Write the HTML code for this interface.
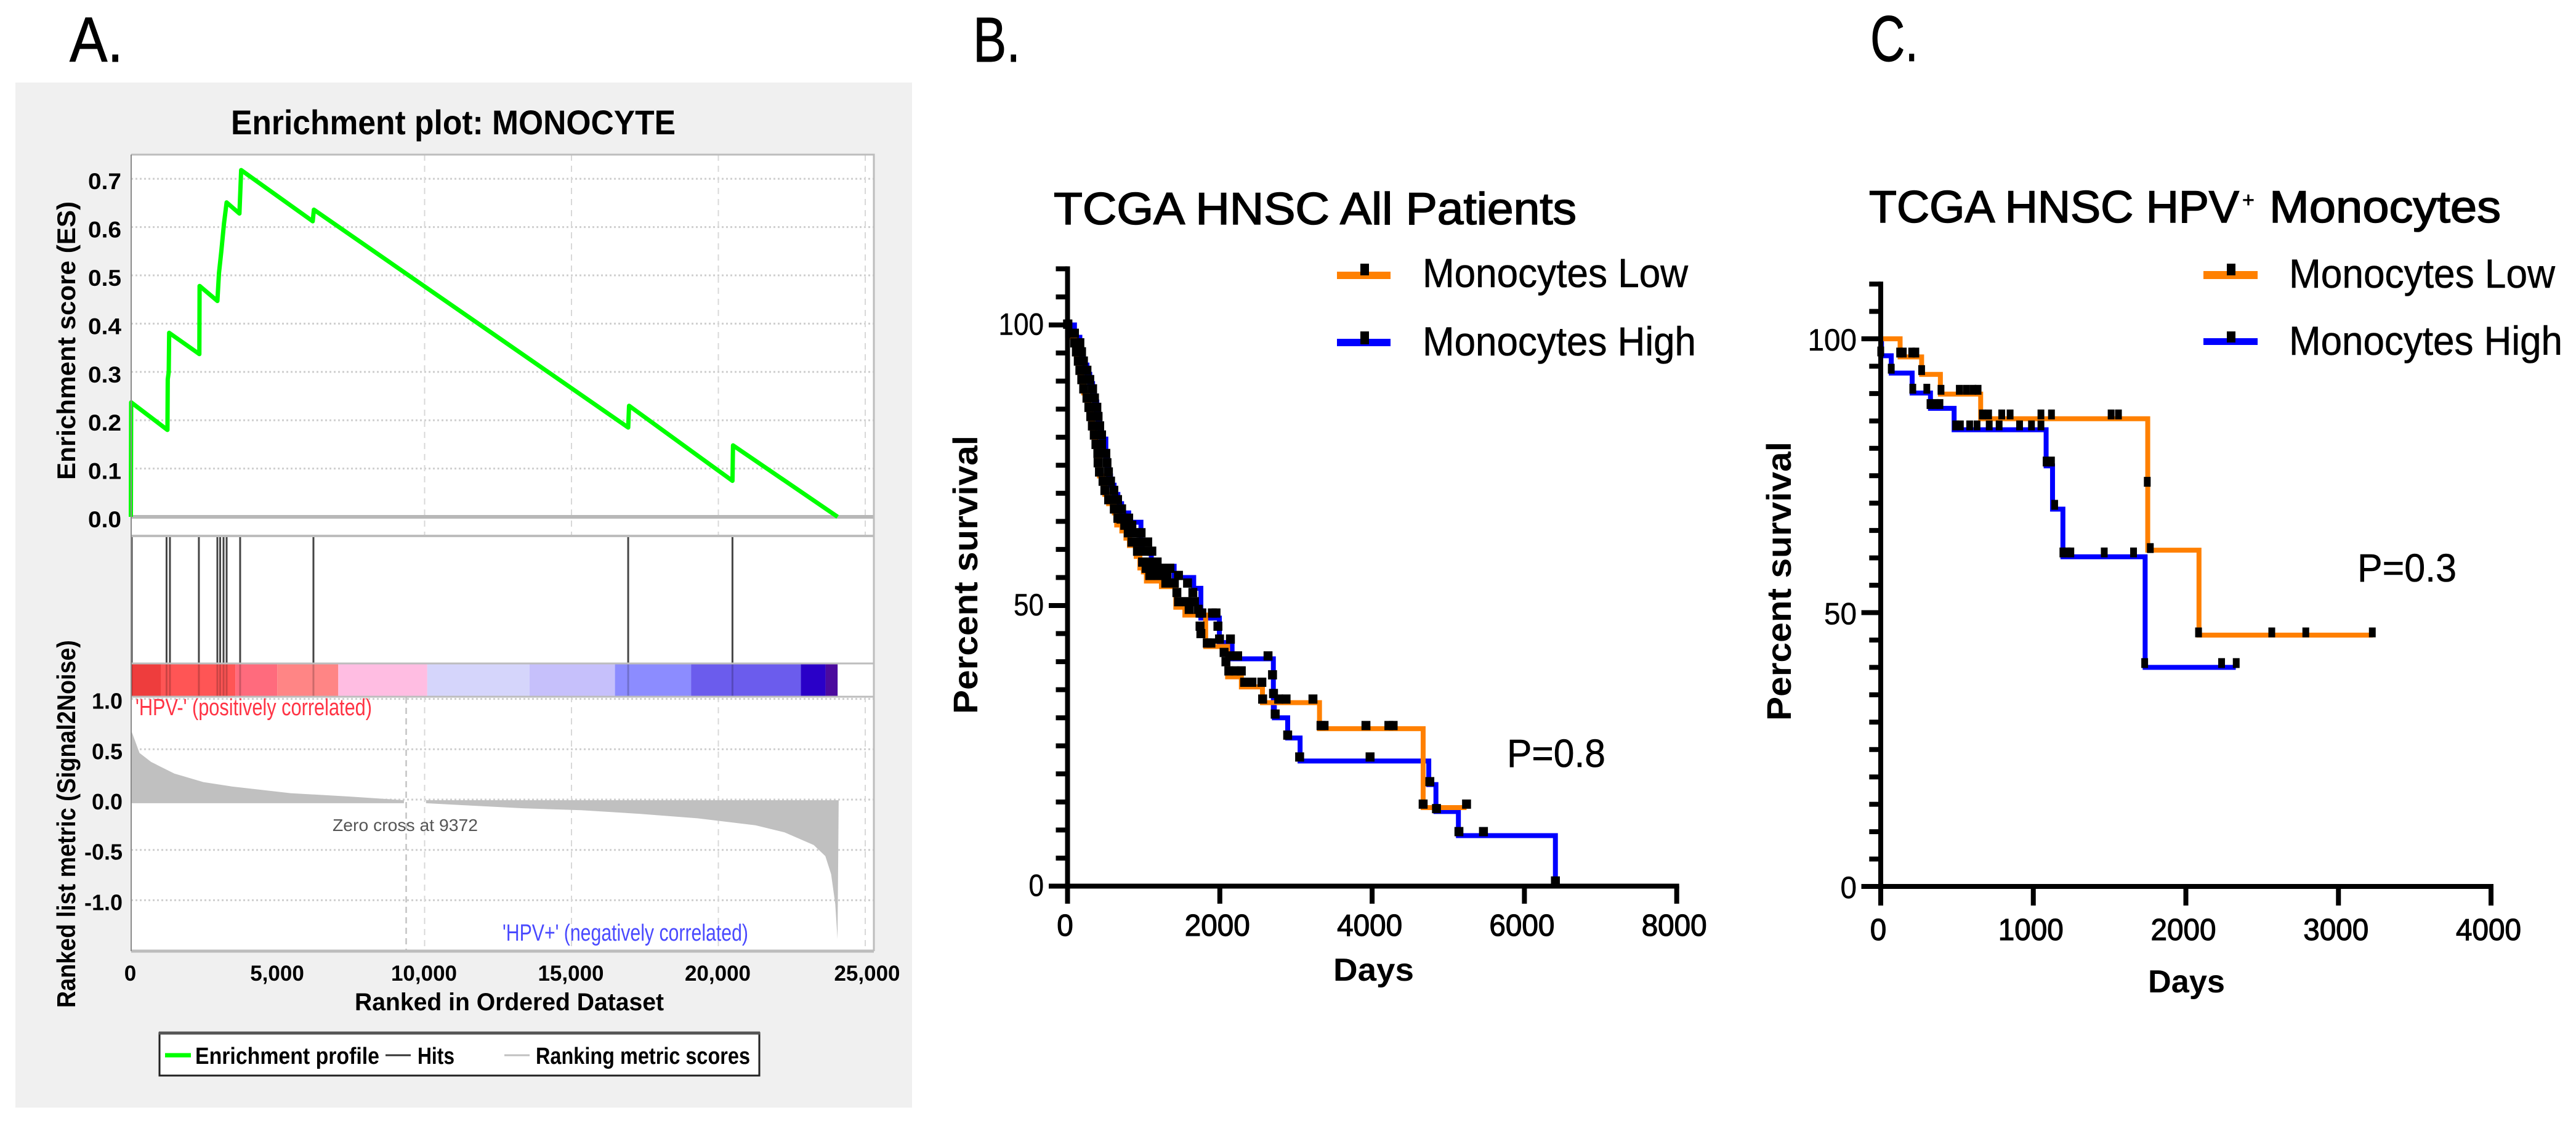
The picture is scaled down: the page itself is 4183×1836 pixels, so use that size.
<!DOCTYPE html>
<html lang="en">
<head>
<meta charset="utf-8">
<title>Monocyte enrichment and survival</title>
<style>
html,body{margin:0;padding:0;background:#fff;}
svg{display:block;}
text{font-family:"Liberation Sans",sans-serif;fill:#000;}
</style>
</head>
<body>
<svg id="fig" xmlns="http://www.w3.org/2000/svg" width="4183" height="1836" viewBox="0 0 4183 1836">
  <rect x="0" y="0" width="4183" height="1836" fill="#fff"/>

  <text x="113" y="100" font-size="103" stroke="#000" stroke-width="1" textLength="87" lengthAdjust="spacingAndGlyphs">A.</text>
  <text x="1580" y="100" font-size="103" stroke="#000" stroke-width="1" textLength="77" lengthAdjust="spacingAndGlyphs">B.</text>
  <text x="3037" y="99" font-size="105" stroke="#000" stroke-width="1" textLength="78" lengthAdjust="spacingAndGlyphs">C.</text>

  <!-- Panel A -->
  <g id="panelA">
    <rect x="25" y="134" width="1456" height="1664" fill="#f0f0f0"/>
    <text x="375" y="218" font-size="56" font-weight="bold" textLength="722" lengthAdjust="spacingAndGlyphs">Enrichment plot: MONOCYTE</text>
    <rect x="213" y="251" width="1206" height="619" fill="#fff"/>
    <rect x="213" y="870" width="1206" height="207" fill="#fff"/>
    <rect x="213" y="1077" width="1206" height="53" fill="#fff"/>
    <rect x="213" y="1130" width="1206" height="414" fill="#fff"/>
    <g id="aGrid"></g>
    <g id="aMarks"></g>
    <g fill="none">
      <path d="M213 251H1419V1544" stroke="#bdbdbd" stroke-width="3"/>
      <path d="M213 870H1419" stroke="#bdbdbd" stroke-width="4"/>
      <path d="M213 1077H1419" stroke="#bdbdbd" stroke-width="3"/>
      <path d="M213 1131H1419" stroke="#bdbdbd" stroke-width="3"/>
      <path d="M213 1544H1419" stroke="#bdbdbd" stroke-width="5"/>
      <path d="M213 251V1544" stroke="#8a8a8a" stroke-width="2"/>
    </g>
    <text transform="translate(122 779) rotate(-90)" x="0" y="0" font-size="42" font-weight="bold" textLength="452" lengthAdjust="spacingAndGlyphs">Enrichment  score (ES)</text>
    <text transform="translate(122 1636) rotate(-90)" x="0" y="0" font-size="42" font-weight="bold" textLength="597" lengthAdjust="spacingAndGlyphs">Ranked list  metric (Signal2Noise)</text>
    <text x="576" y="1640" font-size="40" font-weight="bold" textLength="502" lengthAdjust="spacingAndGlyphs">Ranked in Ordered Dataset</text>
    <text x="220" y="1161" font-size="38" textLength="384" lengthAdjust="spacingAndGlyphs" style="fill:#ff3344">'HPV-' (positively correlated)</text>
    <text x="816" y="1527" font-size="38" textLength="399" lengthAdjust="spacingAndGlyphs" style="fill:#4a4aff">'HPV+' (negatively correlated)</text>
    <text x="540" y="1349" font-size="28" textLength="236" lengthAdjust="spacingAndGlyphs" style="fill:#555">Zero cross at 9372</text>
    <g>
      <rect x="259" y="1677" width="974" height="69" fill="#fff" stroke="#222" stroke-width="3"/>
      <path d="M258 1677H1234" stroke="#555" stroke-width="5"/>
      <path d="M268 1713H310" stroke="#00ff00" stroke-width="7"/>
      <text x="317" y="1727" font-size="38" font-weight="bold" textLength="299" lengthAdjust="spacingAndGlyphs">Enrichment profile</text>
      <path d="M626 1713H667" stroke="#333" stroke-width="3"/>
      <text x="678" y="1727" font-size="38" font-weight="bold" textLength="60" lengthAdjust="spacingAndGlyphs">Hits</text>
      <path d="M819 1713H860" stroke="#c0c0c0" stroke-width="3"/>
      <text x="870" y="1727" font-size="38" font-weight="bold" textLength="348" lengthAdjust="spacingAndGlyphs">Ranking metric scores</text>
    </g>
  </g>

  <!-- Panel B -->
  <g id="panelB">
    <text x="1711" y="364" font-size="73" stroke="#000" stroke-width="1.6" textLength="849" lengthAdjust="spacingAndGlyphs">TCGA HNSC All Patients</text>
    <text transform="translate(1587 1159) rotate(-90)" x="0" y="0" font-size="56" font-weight="bold" textLength="452" lengthAdjust="spacingAndGlyphs">Percent survival</text>
    <text x="2165" y="1592" font-size="52" font-weight="bold" textLength="131" lengthAdjust="spacingAndGlyphs">Days</text>
    <text x="2447" y="1245" font-size="64" stroke="#000" stroke-width="0.6" textLength="160" lengthAdjust="spacingAndGlyphs">P=0.8</text>
    <rect x="2171" y="441" width="87" height="12" fill="#ff8000"/>
    <rect x="2209" y="428" width="14" height="19" fill="#000"/>
    <text x="2310" y="466" font-size="66" stroke="#000" stroke-width="0.6" textLength="431" lengthAdjust="spacingAndGlyphs">Monocytes Low</text>
    <rect x="2171" y="550" width="87" height="12" fill="#0000ff"/>
    <rect x="2209" y="538" width="14" height="21" fill="#000"/>
    <text x="2310" y="577" font-size="66" stroke="#000" stroke-width="0.6" textLength="444" lengthAdjust="spacingAndGlyphs">Monocytes High</text>
  </g>

  <!-- Panel C -->
  <g id="panelC">
    <text x="3035" y="361" font-size="73" stroke="#000" stroke-width="1.6" textLength="601" lengthAdjust="spacingAndGlyphs">TCGA HNSC HPV</text>
    <text x="3641" y="336" font-size="34" stroke="#000" stroke-width="0.8">+</text>
    <text x="3685" y="361" font-size="73" stroke="#000" stroke-width="1.6" textLength="376" lengthAdjust="spacingAndGlyphs">Monocytes</text>
    <text transform="translate(2908 1170) rotate(-90)" x="0" y="0" font-size="56" font-weight="bold" textLength="453" lengthAdjust="spacingAndGlyphs">Percent survival</text>
    <text x="3488" y="1611" font-size="52" font-weight="bold" textLength="125" lengthAdjust="spacingAndGlyphs">Days</text>
    <text x="3828" y="944" font-size="64" stroke="#000" stroke-width="0.6" textLength="161" lengthAdjust="spacingAndGlyphs">P=0.3</text>
    <rect x="3578" y="440" width="88" height="13" fill="#ff8000"/>
    <rect x="3616" y="428" width="14" height="19" fill="#000"/>
    <text x="3717" y="467" font-size="66" stroke="#000" stroke-width="0.6" textLength="432" lengthAdjust="spacingAndGlyphs">Monocytes Low</text>
    <rect x="3578" y="549" width="88" height="11" fill="#0000ff"/>
    <rect x="3616" y="538" width="14" height="18" fill="#000"/>
    <text x="3717" y="576" font-size="66" stroke="#000" stroke-width="0.6" textLength="444" lengthAdjust="spacingAndGlyphs">Monocytes High</text>
  </g>
</svg>

<script>
// ---------- Panel A data ----------
const esRanks = [0, 10, 1245, 1255, 1290, 1303, 2332, 2340, 2945, 3000, 3080, 3170, 3260, 3697, 3755, 6190, 6230, 16930, 16960, 20480, 20500, 24060];
const esValues = [0, 0.237, 0.18, 0.285, 0.3, 0.381, 0.337, 0.478, 0.447, 0.505, 0.55, 0.607, 0.651, 0.628, 0.718, 0.612, 0.636, 0.185, 0.23, 0.0745, 0.148, 0];
const hitRanks = [30, 1215, 1330, 2315, 2945, 3040, 3155, 3260, 3720, 6215, 16930, 20480];
const barEdges = [0, 1026, 3556, 4983, 7060, 10090, 13570, 16480, 19070, 22810, 23650, 24060];
const barColors = ['#ee3d3d', '#ff5555', '#ff6b7d', '#ff8585', '#ffbde2', '#d5d5fb', '#c6c0fb', '#8c8cff', '#6b5ced', '#2a00c8', '#4b0a9e'];
const metricPosRanks = [17, 294, 689, 1481, 2470, 3459, 5438, 7417, 9296];
const metricPosValues = [0.69, 0.47, 0.38, 0.265, 0.18, 0.135, 0.07, 0.037, 0];
const metricNegRanks = [10048, 11374, 13352, 15331, 17310, 19288, 21267, 22256, 23245, 23641, 23839, 23978, 24057, 24096];
const metricNegValues = [-0.03, -0.05, -0.08, -0.10, -0.135, -0.18, -0.25, -0.32, -0.445, -0.555, -0.735, -1.03, -1.38, 0];
const esTicks = [0, 0.1, 0.2, 0.3, 0.4, 0.5, 0.6, 0.7];
const esTickLabels = ['0.0', '0.1', '0.2', '0.3', '0.4', '0.5', '0.6', '0.7'];
const metricTicks = [1, 0.5, 0, -0.5, -1];
const metricTickLabels = ['1.0', '0.5', '0.0', '-0.5', '-1.0'];
const rankTicks = [0, 5000, 10000, 15000, 20000, 25000];
const rankTickLabels = ['0', '5,000', '10,000', '15,000', '20,000', '25,000'];
const rankGrid = [10000, 15000, 20000, 25000];
const zeroCross = 9372;

// ---------- Panel B data ----------
const bLowDays = [0,26,94,116,141,162,187,212,255,280,305,326,351,373,398,419,466,490,540,614,646,713,767,813,902,950,996,1036,1233,1422,1541,1814,2102,2283,2560,3309,4670,5240];
const bLowPct = [100,97.8,96.1,94.5,92.85,91.2,89.55,87.9,86.26,84.6,82.97,81.3,79.67,78,76.38,73.09,71.44,69.8,68.15,66.5,64.35,63.3,62,60.7,58.75,56.7,56,54.36,53.37,49.7,48.3,42.7,37.3,35.5,32.7,28.06,14,14];
const bHighDays = [0,91,162,184,209,255,292,329,354,385,401,422,447,503,518,540,565,611,661,710,803,964,1100,1400,1657,1751,1994,2161,2703,2716,2891,3054,4744,4838,5133,6407];
const bHighPct = [100,97.8,96.1,94.5,92.85,91.2,89.55,87.9,86.26,84.6,82.97,81.3,79.67,76.38,74.73,73.09,71.44,69.8,68.15,66.5,64.85,60,57,55,53.07,47.77,43.4,40.5,31.8,30,26.4,22.3,18.1,13.3,9,0];
const bLowCensorDays = [0,26,94,116,141,162,187,212,255,280,
  305,326,351,373,398,401,419,466,490,540,
  614,661,732,702,751,797,845,918,985,1031,
  1080,1193,1290,1403,1436,1457,1570,1597,1740,1740,
  1751,1835,1883,2056,2080,2118,2199,2282,2325,2422,
  2552,2562,2773,2870,3223,3329,3369,3919,4220,4276,
  4670,5240];
const bLowCensorPct = [99.43,97.8,96.1,94.5,92.85,91.2,89.55,87.9,86.26,84.6,
  82.97,81.3,79.67,78,76.38,74.73,73.09,71.44,69.8,68.15,
  66.5,64.85,64.85,64.71,63.6,62.26,60.6,58.97,57.03,55.93,
  54.65,54.65,53.3,53.3,51.61,49.97,49.97,48.61,47.95,45.61,
  44.29,42.61,42.61,40.93,39.28,37.64,37.64,37.64,35.62,35.62,
  35.62,32.62,32.62,32.62,32.62,27.9,27.9,27.9,27.9,27.9,
  13.9,13.9];
const bHighCensorDays = [5,91,162,184,209,255,292,329,354,385,
  401,422,447,447,503,518,537,565,608,657,
  710,803,778,845,910,966,958,1053,1031,1107,
  1099,1177,1144,1239,1344,1306,1457,1576,1646,1667,
  1716,1764,1902,1950,1975,1996,2139,2131,2234,2633,
  2692,2705,2727,2891,3048,3973,4758,4845,5140,5462,
  6407];
const bHighCensorPct = [99.43,97.8,96.1,94.5,92.85,91.2,89.55,87.9,86.26,84.6,
  82.97,81.3,79.67,78,76.38,74.73,73.09,71.44,69.8,68.15,
  66.5,64.85,64.71,63.6,62.26,62.26,60.6,60.6,58.97,58.97,
  57.03,57.03,55.93,55.93,55.93,54.65,54.65,53.3,51.61,49.97,
  48.61,47.95,47.95,47.95,45.61,43.31,43.31,40.31,40.31,40.31,
  36.94,33.61,29.95,26.2,22.3,22.3,17.9,13.1,9,9,
  0.2];
const bXTicks = [0, 2000, 4000, 6000, 8000];
const bXTickLabels = ['0', '2000', '4000', '6000', '8000'];

// ---------- Panel C data ----------
const cLowDays = [0, 127, 268, 391, 655, 1750, 2086, 3226];
const cLowPct = [100, 96.7, 93.5, 89.9, 85.4, 61.4, 45.9, 45.9];
const cHighDays = [0, 5, 69, 206, 326, 481, 1084, 1126, 1194, 1733, 2327];
const cHighPct = [100, 96.9, 93.75, 90.1, 87.3, 83.4, 76.8, 68.9, 60.2, 40, 40];
const cLowCensorDays = [124,148,203,230,268,395,515,560,604,638,666,707,793,848,1050,1119,1510,1558,1747,1767,2083,2563,2786,3222];
const cLowCensorPct = [96.7,96.7,96.7,96.7,93.5,89.9,89.9,89.9,89.9,89.9,85.4,85.4,85.4,85.4,85.4,85.4,85.4,85.4,73.1,61,45.6,45.6,45.6,45.6];
const cHighCensorDays = [0,69,210,302,323,357,388,491,522,583,631,711,776,910,988,1050,1084,1119,1140,1194,1222,1246,1465,1657,1730,2234,2330];
const cHighCensorPct = [96.9,93.75,90.1,90.1,87.3,87.3,87.3,83.4,83.4,83.4,83.4,83.4,83.4,83.4,83.4,83.4,76.8,76.8,68.9,60.2,60.2,60.2,60.2,60.2,40,40,40];
const cXTicks = [0, 1000, 2000, 3000, 4000];
const cXTickLabels = ['0', '1000', '2000', '3000', '4000'];

const pctTicks = [0,5,10,15,20,25,30,35,40,45,50,55,60,65,70,75,80,85,90,95,100,105,110];
const pctTickLabels = ['0','','','','','','','','','','50','','','','','','','','','','100','',''];

// ---------- Helpers ----------
const NS = 'http://www.w3.org/2000/svg';
function add(parent, tag, attrs, txt) {
  const e = document.createElementNS(NS, tag);
  for (const k in attrs) e.setAttribute(k, attrs[k]);
  if (txt !== undefined) e.textContent = txt;
  parent.appendChild(e);
  return e;
}
function stepPath(days, pct, sx, sy) {
  let d = 'M' + sx(days[0]) + ' ' + sy(pct[0]);
  for (let i = 1; i < days.length; i++) d += 'H' + sx(days[i]) + 'V' + sy(pct[i]);
  return d;
}

// ---------- Panel A ----------
const rx = r => 212.5 + r * 0.0477;
const ey = v => 839 - 784 * v;
const my = v => 1299 - 163.4 * v;
const aGrid = document.getElementById('aGrid');
const aMarks = document.getElementById('aMarks');
const panelA = document.getElementById('panelA');

esTicks.forEach((t, i) => {
  if (t !== 0) {
    const g = add(aGrid, 'line', {x1: 213, x2: 1419, y1: ey(t), y2: ey(t), stroke: '#cfcfcf', 'stroke-width': 3, 'stroke-dasharray': '3 4'});
    
    
  }
  const l = add(panelA, 'text', {x: 197, y: ey(t) + 17, 'text-anchor': 'end', 'font-size': 37, 'font-weight': 'bold', textLength: 54, lengthAdjust: 'spacingAndGlyphs'}, esTickLabels[i]);
  
  
});
metricTicks.forEach((t, i) => {
  const g = add(aGrid, 'line', {x1: 213, x2: 1419, y1: my(t) - 1, y2: my(t) - 1, stroke: '#cfcfcf', 'stroke-width': 3, 'stroke-dasharray': '3 4'});
  
  
  const l = add(panelA, 'text', {x: 199, y: my(t) + 15, 'text-anchor': 'end', 'font-size': 36, 'font-weight': 'bold'}, metricTickLabels[i]);
  
  
});
rankGrid.forEach(t => {
  [[251, 870], [1130, 1544]].forEach(s => {
    const g = add(aGrid, 'line', {x1: rx(t), x2: rx(t), y1: s[0], y2: s[1], stroke: '#d8d8d8', 'stroke-width': 2, 'stroke-dasharray': '10 8'});
    
    
  });
});
rankTicks.forEach((t, i) => {
  const l = add(panelA, 'text', {x: rx(t) - 1 + (t === 25000 ? 4 : 0), y: 1592, 'text-anchor': 'middle', 'font-size': 35, 'font-weight': 'bold'}, rankTickLabels[i]);
  
  
});
const zeroLine = add(aMarks, 'line', {x1: 213, x2: 1419, y1: ey(0), y2: ey(0), stroke: '#b8b8b8', 'stroke-width': 6});



let esD = '';
esRanks.forEach((r, i) => { esD += (i ? 'L' : 'M') + rx(r).toFixed(1) + ' ' + ey(esValues[i]).toFixed(1); });
const esLine = add(aMarks, 'path', {d: esD, fill: 'none', stroke: '#00ff00', 'stroke-width': 7, 'stroke-linejoin': 'round'});



barColors.forEach((c, i) => {
  const b = add(aMarks, 'rect', {x: rx(barEdges[i]), y: 1077, width: rx(barEdges[i + 1]) - rx(barEdges[i]), height: 53, fill: c});
  
  
});
hitRanks.forEach(r => {
  const h = add(aMarks, 'line', {x1: rx(r), x2: rx(r), y1: 872, y2: 1077, stroke: '#444', 'stroke-width': 3});
  
  
  const o = add(aMarks, 'line', {x1: rx(r), x2: rx(r), y1: 1077, y2: 1130, stroke: 'rgba(0,0,0,0.2)', 'stroke-width': 3});
  
  
});

let posD = 'M' + rx(metricPosRanks[0]) + ' ' + my(-0.03) + 'V' + my(metricPosValues[0]);
metricPosRanks.forEach((r, i) => { posD += 'L' + rx(r).toFixed(1) + ' ' + my(metricPosValues[i]).toFixed(1); });
posD += 'V' + my(-0.03) + 'Z';
const posArea = add(aMarks, 'path', {d: posD, fill: '#c0c0c0'});


let negD = 'M' + rx(metricNegRanks[0]) + ' ' + my(0);
metricNegRanks.forEach((r, i) => { negD += 'L' + rx(r).toFixed(1) + ' ' + my(metricNegValues[i]).toFixed(1); });
negD += 'Z';
const negArea = add(aMarks, 'path', {d: negD, fill: '#c0c0c0'});


const zc = add(aMarks, 'line', {x1: rx(zeroCross), x2: rx(zeroCross), y1: 1132, y2: 1544, stroke: '#c4c4c4', 'stroke-width': 2.5, 'stroke-dasharray': '10 7'});



// ---------- Survival panels ----------
function drawSurvival(cfg) {
  const root = cfg.root;
  const sx = cfg.sx, sy = cfg.sy;
  const ax = cfg.axisX, baseY = sy(0);

  const hi = add(root, 'path', {d: stepPath(cfg.highDays, cfg.highPct, sx, sy), fill: 'none', stroke: '#0000ff', 'stroke-width': 8, 'stroke-linejoin': 'miter'});
  
  
  const lo = add(root, 'path', {d: stepPath(cfg.lowDays, cfg.lowPct, sx, sy), fill: 'none', stroke: '#ff8000', 'stroke-width': 8, 'stroke-linejoin': 'miter'});
  
  

  cfg.highCensorDays.forEach((d, i) => {
    const m = add(root, 'rect', {x: sx(d) - cfg.mw / 2, y: sy(cfg.highCensorPct[i]) - cfg.mh + 1, width: cfg.mw, height: cfg.mh, fill: '#000'});
    
    
  });
  cfg.lowCensorDays.forEach((d, i) => {
    const m = add(root, 'rect', {x: sx(d) - cfg.mw / 2, y: sy(cfg.lowCensorPct[i]) - cfg.mh + 1, width: cfg.mw, height: cfg.mh, fill: '#000'});
    
    
  });

  const yAxis = add(root, 'line', {x1: ax, x2: ax, y1: sy(110) - 4, y2: cfg.tickBottom, stroke: '#000', 'stroke-width': 8});
  
  
  const xAxis = add(root, 'line', {x1: cfg.majorLeft, x2: sx(cfg.xTicks[cfg.xTicks.length - 1]) + 4, y1: baseY, y2: baseY, stroke: '#000', 'stroke-width': 8});
  
  

  pctTicks.forEach((p, i) => {
    const major = pctTickLabels[i] !== '';
    const t = add(root, 'line', {x1: major ? cfg.majorLeft : cfg.minorLeft, x2: ax, y1: sy(p), y2: sy(p), stroke: '#000', 'stroke-width': 8});
    
    
    if (major) {
      const l = add(root, 'text', {x: cfg.yLabelRight, y: sy(p) + cfg.yLabelDy, 'text-anchor': 'end', 'font-size': 50, stroke: '#000', 'stroke-width': 0.5, textLength: pctTickLabels[i].length * cfg.digitW, lengthAdjust: 'spacingAndGlyphs'}, pctTickLabels[i]);
      
      
    }
  });
  cfg.xTicks.forEach((d, i) => {
    const t = add(root, 'line', {x1: sx(d), x2: sx(d), y1: baseY, y2: cfg.tickBottom, stroke: '#000', 'stroke-width': 8});
    
    
    const l = add(root, 'text', {x: sx(d) - 4, y: cfg.xLabelY, 'text-anchor': 'middle', 'font-size': 49, stroke: '#000', 'stroke-width': 1.2, textLength: cfg.xTickLabels[i].length * 26.5, lengthAdjust: 'spacingAndGlyphs'}, cfg.xTickLabels[i]);
    
    
  });
}

drawSurvival({
  root: document.getElementById('panelB'),
  sx: d => 1733.5 + d * 0.12365,
  sy: p => 1438.5 - p * 9.11,
  axisX: 1733.5, majorLeft: 1703, minorLeft: 1714.5, tickBottom: 1467,
  yLabelRight: 1695, yLabelDy: 16, digitW: 24.5, xLabelY: 1519,
  mw: 14.5, mh: 15,
  lowDays: bLowDays, lowPct: bLowPct, highDays: bHighDays, highPct: bHighPct,
  lowCensorDays: bLowCensorDays, lowCensorPct: bLowCensorPct,
  highCensorDays: bHighCensorDays, highCensorPct: bHighCensorPct,
  xTicks: bXTicks, xTickLabels: bXTickLabels
});

drawSurvival({
  root: document.getElementById('panelC'),
  sx: d => 3054 + d * 0.24775,
  sy: p => 1439 - p * 8.89,
  axisX: 3054, majorLeft: 3022.6, minorLeft: 3035.3, tickBottom: 1470,
  yLabelRight: 3015, yLabelDy: 19, digitW: 26.5, xLabelY: 1526,
  mw: 11, mh: 16,
  lowDays: cLowDays, lowPct: cLowPct, highDays: cHighDays, highPct: cHighPct,
  lowCensorDays: cLowCensorDays, lowCensorPct: cLowCensorPct,
  highCensorDays: cHighCensorDays, highCensorPct: cHighCensorPct,
  xTicks: cXTicks, xTickLabels: cXTickLabels
});
</script>
</body>
</html>
